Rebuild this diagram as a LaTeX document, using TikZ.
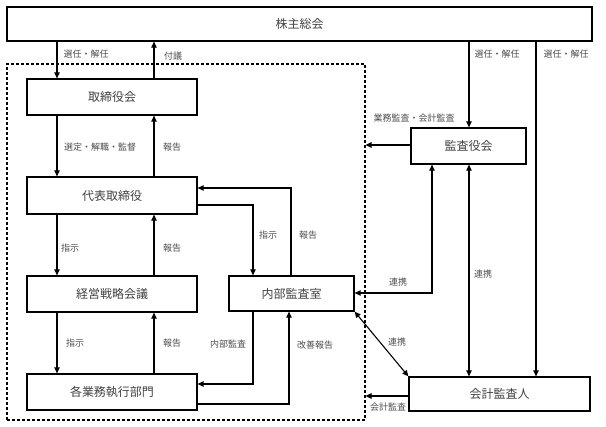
\documentclass[tikz,border=0pt]{standalone}
\usepackage{fontspec}
\setmainfont{Noto Sans CJK JP}
\usetikzlibrary{arrows.meta}
\tikzset{
 box/.style={draw, line width=1.3pt, rectangle, inner sep=0pt, font=\fontsize{12}{12}\selectfont, text=black!75},
 lbl/.style={inner sep=0pt, font=\fontsize{9}{9}\selectfont, text=black!70},
 conn/.style={line width=1.1pt, -{Triangle[length=6pt,width=5.5pt]}},
 conn2/.style={line width=1.1pt, {Triangle[length=6pt,width=5.5pt]}-{Triangle[length=6pt,width=5.5pt]}},
 grpbox/.style={draw, rectangle, line width=1.1pt, dash pattern=on 3pt off 2pt, inner sep=0pt},
}
\begin{document}
\begin{tikzpicture}[x=1pt,y=-1pt]
\useasboundingbox (0,0) rectangle (606,427);
% group
\node[grpbox, minimum width=358, minimum height=356] (grp) at (186,242) {};
% boxes
\node[box, minimum width=585, minimum height=34] (sh) at (299.5,24) {株主総会};
\node[box, minimum width=170, minimum height=36] (tori) at (112,97) {取締役会};
\node[box, minimum width=170, minimum height=37] (daihyo) at (112,195.5) {代表取締役};
\node[box, minimum width=170, minimum height=36] (keiei) at (112,294) {経営戦略会議};
\node[box, minimum width=170, minimum height=36] (kaku) at (112,392) {各業務執行部門};
\node[box, minimum width=125, minimum height=35] (naibu) at (291.5,293.5) {内部監査室};
\node[box, minimum width=115, minimum height=36] (kansa) at (468.5,146) {監査役会};
\node[box, minimum width=181, minimum height=34] (kaikei) at (499.5,394) {会計監査人};
% helper coordinates
\coordinate (cL) at (57,0);
\coordinate (cR) at (154,0);
\coordinate (cA) at (253,0);
\coordinate (cB) at (291,0);
\coordinate (cC) at (289,0);
\coordinate (cK1) at (432,0);
\coordinate (cK2) at (469,0);
\coordinate (cK3) at (536,0);
\coordinate (yD1) at (0,188);
\coordinate (yD2) at (0,205);
\coordinate (yN1) at (0,384);
\coordinate (yN2) at (0,404);
\coordinate (yK) at (0,293);
\coordinate (yK0) at (0,145);
\coordinate (yKK) at (0,396);
% connectors
\draw[conn] (sh.south -| cL) -- (tori.north -| cL);
\draw[conn] (tori.north -| cR) -- (sh.south -| cR);
\draw[conn] (tori.south -| cL) -- (daihyo.north -| cL);
\draw[conn] (daihyo.north -| cR) -- (tori.south -| cR);
\draw[conn] (daihyo.south -| cL) -- (keiei.north -| cL);
\draw[conn] (keiei.north -| cR) -- (daihyo.south -| cR);
\draw[conn] (keiei.south -| cL) -- (kaku.north -| cL);
\draw[conn] (kaku.north -| cR) -- (keiei.south -| cR);
\draw[conn] (daihyo.east |- yD2) -| (naibu.north -| cA);
\draw[conn] (naibu.north -| cB) |- (daihyo.east |- yD1);
\draw[conn] (naibu.south -| cA) |- (kaku.east |- yN1);
\draw[conn] (kaku.east |- yN2) -| (naibu.south -| cC);
\draw[conn] (sh.south -| cK2) -- (kansa.north -| cK2);
\draw[conn] (sh.south -| cK3) -- (kaikei.north -| cK3);
\draw[conn] (kansa.west |- yK0) -- (grp.east |- yK0);
\draw[conn2] (kansa.south -| cK1) |- (naibu.east |- yK);
\draw[conn2] (kansa.south -| cK2) -- (kaikei.north -| cK2);
\draw[conn2] (naibu.south east) -- (kaikei.north west);
\draw[conn] (kaikei.west |- yKK) -- (grp.east |- yKK);
% labels
\node[lbl] (l1) at (86,54) {選任・解任};
\node[lbl] (l2) at (173,56) {付議};
\node[lbl] (l3) at (100,147) {選定・解職・監督};
\node[lbl] (l4) at (172,147) {報告};
\node[lbl] (l5) at (70,248) {指示};
\node[lbl] (l6) at (172,248) {報告};
\node[lbl] (l7) at (75,343) {指示};
\node[lbl] (l8) at (172,343) {報告};
\node[lbl] (l9) at (268,235) {指示};
\node[lbl] (l10) at (308,235) {報告};
\node[lbl] (l11) at (228,344) {内部監査};
\node[lbl] (l12) at (315,345) {改善報告};
\node[lbl] (l13) at (497,54) {選任・解任};
\node[lbl] (l14) at (566,54) {選任・解任};
\node[lbl] (l15) at (414,118) {業務監査・会計監査};
\node[lbl] (l16) at (398,282) {連携};
\node[lbl] (l17) at (483,274) {連携};
\node[lbl] (l18) at (397,342) {連携};
\node[lbl] (l19) at (388,407) {会計監査};
\end{tikzpicture}
\end{document}
